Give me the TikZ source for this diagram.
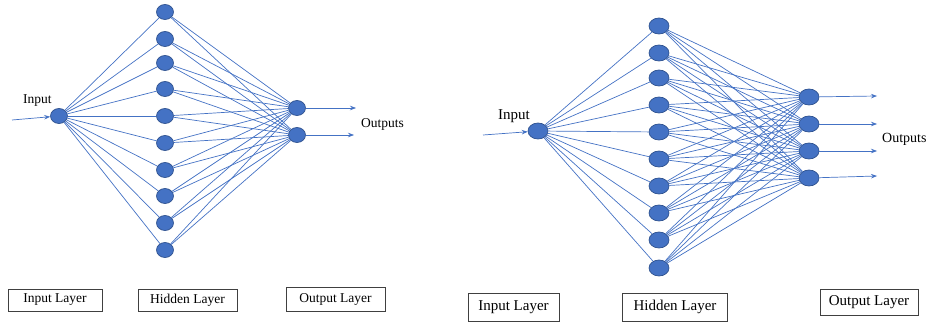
\documentclass[tikz,border=0pt]{standalone}
\usepackage{fontspec}
\setmainfont{Liberation Serif}
\usetikzlibrary{shapes.geometric,arrows.meta}
\definecolor{nfill}{HTML}{4472C4}
\definecolor{nedge}{HTML}{2F528F}
\definecolor{lnk}{HTML}{4472C4}
\begin{document}
\begin{tikzpicture}[x=1pt,y=-1pt,
  neuronL/.style={ellipse, fill=nfill, draw=nedge, line width=0.7pt, minimum width=17pt, minimum height=15pt, inner sep=0pt},
  neuronR/.style={ellipse, fill=nfill, draw=nedge, line width=0.7pt, minimum width=20pt, minimum height=16pt, inner sep=0pt},
  link/.style={draw=lnk, line width=0.7pt},
  arr/.style={draw=lnk, line width=0.7pt, -{Stealth[length=6pt,width=4.5pt]}},
  layerboxL/.style={draw=black!75, line width=0.7pt, inner sep=0pt, font=\fontsize{13.5}{15}\selectfont},
  layerboxR/.style={draw=black!75, line width=0.7pt, inner sep=0pt, font=\fontsize{15}{17}\selectfont},
  lblL/.style={inner sep=0pt, anchor=base west, font=\fontsize{13.5}{15}\selectfont},
  lblR/.style={inner sep=0pt, anchor=base west, font=\fontsize{15}{17}\selectfont}]
\useasboundingbox (0,0) rectangle (928,323);

% ---------- left network ----------
\node[neuronL] (iL) at (59,116) {};
\foreach \y [count=\i] in {12,39,63,89,116,143,170,196,223,250}
  \node[neuronL] (hL\i) at (165,\y) {};
\node[neuronL] (oL1) at (297,108) {};
\node[neuronL] (oL2) at (297,135) {};
\foreach \i in {1,...,10} {
  \draw[link] (iL) -- (hL\i);
  \draw[link] (hL\i) -- (oL1);
  \draw[link] (hL\i) -- (oL2);
}
\coordinate (iLs) at (12,120);
\draw[arr] (iLs) -- (iL);
\coordinate (oLt1) at (356,108);
\coordinate (oLt2) at (354,135);
\draw[arr] (oL1) -- (oLt1);
\draw[arr] (oL2) -- (oLt2);
\node[lblL] (inLbl) at (23,104) {Input};
\node[lblL] (outLbl) at (361,128) {Outputs};

\node[layerboxL, minimum width=94pt, minimum height=22pt] (bL1) at (55,300) {Input Layer};
\node[layerboxL, minimum width=99pt, minimum height=22pt] (bL2) at (187.5,300) {Hidden Layer};
\node[layerboxL, minimum width=99pt, minimum height=24pt] (bL3) at (335.5,299) {Output Layer};

% ---------- right network ----------
\node[neuronR] (iR) at (538,131) {};
\foreach \y [count=\i] in {26,53,78,105,132,159,186,213,240,268}
  \node[neuronR] (hR\i) at (659,\y) {};
\foreach \y [count=\j] in {97,124,151,178}
  \node[neuronR] (oR\j) at (809,\y) {};
\foreach \i in {1,...,10} {
  \draw[link] (iR) -- (hR\i);
  \foreach \j in {1,...,4}
    \draw[link] (hR\i) -- (oR\j);
}
\coordinate (iRs) at (483,135);
\draw[arr] (iRs) -- (iR);
\coordinate (oRt1) at (877,96);
\coordinate (oRt2) at (877,124);
\coordinate (oRt3) at (877,151);
\coordinate (oRt4) at (877,176);
\foreach \j in {1,...,4}
  \draw[arr] (oR\j) -- (oRt\j);
\node[lblR] (inRlbl) at (498,120) {Input};
\node[lblR, font=\fontsize{14}{16}\selectfont] (outRlbl) at (882,143) {Outputs};

\node[layerboxR, minimum width=91pt, minimum height=28pt] (bR1) at (513.5,307) {Input Layer};
\node[layerboxR, minimum width=105pt, minimum height=28pt] (bR2) at (675,307) {Hidden Layer};
\node[layerboxR, minimum width=98pt, minimum height=26pt] (bR3) at (869,302) {Output Layer};
\end{tikzpicture}
\end{document}
